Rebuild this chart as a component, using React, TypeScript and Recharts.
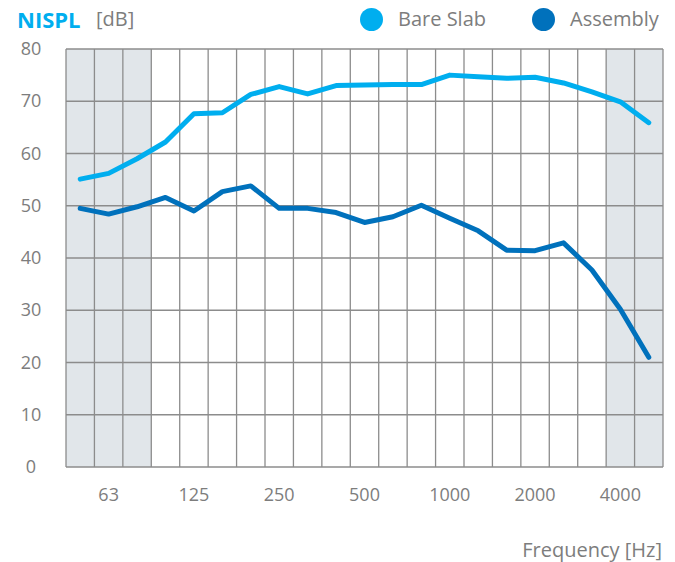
import { LineChart, Line, XAxis, YAxis, CartesianGrid } from 'recharts';

// one-third octave bands, 50 Hz .. 5000 Hz
const bands = [
  '50', '63', '80', '100', '125', '160', '200', '250', '315', '400', '500',
  '630', '800', '1000', '1250', '1600', '2000', '2500', '3150', '4000', '5000',
];
const bareSlab = [
  55.1, 56.2, 59.0, 62.2, 67.6, 67.8, 71.3, 72.8, 71.4, 73.0, 73.1,
  73.2, 73.2, 75.0, 74.7, 74.4, 74.6, 73.5, 71.8, 69.9, 65.9,
];
const assembly = [
  49.5, 48.4, 49.8, 51.6, 49.0, 52.7, 53.8, 49.5, 49.5, 48.7, 46.8,
  47.9, 50.1, 47.6, 45.2, 41.5, 41.4, 42.9, 37.7, 30.2, 21.0,
];
const labelledBands = ['63', '125', '250', '500', '1000', '2000', '4000'];
const yTicks = [0, 10, 20, 30, 40, 50, 60, 70, 80];
const shadedBands = ['50', '63', '80', '4000', '5000'];

const LIGHT = '#00aeef';
const DARK = '#0071bc';
const GREY_TEXT = '#7d7d7d';
const FONT = '"Open Sans", "DejaVu Sans", sans-serif';

const data = bands.map((b, i) => ({ idx: i, band: b, bare: bareSlab[i], assembly: assembly[i] }));

function YTick({ x = 0, y = 0, payload }: { x?: number; y?: number; payload?: { value: number } }) {
  return (
    <text x={x - 27} y={y} dy={6} textAnchor="middle" fill={GREY_TEXT} fontSize={18} fontFamily={FONT}>
      {payload?.value}
    </text>
  );
}

function XTick({ x = 0, y = 0, payload }: { x?: number; y?: number; payload?: { value: number } }) {
  return (
    <text x={x} y={y} dy={26} textAnchor="middle" fill={GREY_TEXT} fontSize={18} fontFamily={FONT}>
      {bands[payload?.value ?? 0]}
    </text>
  );
}

const label = { position: 'absolute' as const, fontSize: 20, lineHeight: '24px', color: GREY_TEXT };

export default function App() {
  const n = bands.length;
  // one stripe per band between the vertical grid lines
  const stripeFills = bands.map((b) => (shadedBands.includes(b) ? '#e1e6ea' : 'transparent'));

  return (
    <div style={{ position: 'absolute', left: 0, top: 0, width: 675, height: 562, background: '#fff', fontFamily: FONT }}>
      <LineChart width={675} height={562} data={data} margin={{ top: 49, right: 12, bottom: 55, left: 0 }}>
        <CartesianGrid
          stroke="#8c8c8c"
          strokeWidth={1.3}
          verticalFill={stripeFills}
          fillOpacity={1}
          verticalCoordinatesGenerator={({ offset }: any) =>
            Array.from({ length: n + 1 }, (_, k) => offset.left + (offset.width * k) / n)
          }
        />
        <XAxis
          dataKey="idx"
          type="number"
          domain={[-0.5, n - 0.5]}
          ticks={labelledBands.map((b) => bands.indexOf(b))}
          tick={<XTick />}
          axisLine={false}
          tickLine={false}
          height={40}
          interval={0}
        />
        <YAxis
          domain={[0, 80]}
          ticks={yTicks}
          tick={<YTick />}
          axisLine={false}
          tickLine={false}
          width={66}
          interval={0}
        />
        <Line dataKey="bare" stroke={LIGHT} strokeWidth={5} dot={false} strokeLinecap="round" strokeLinejoin="round" isAnimationActive={false} />
        <Line dataKey="assembly" stroke={DARK} strokeWidth={5} dot={false} strokeLinecap="round" strokeLinejoin="round" isAnimationActive={false} />
      </LineChart>

      <div style={{ position: 'absolute', left: 17, top: 6, fontSize: 22, lineHeight: '26px', fontWeight: 700, color: LIGHT }}>NISPL</div>
      <div style={{ ...label, left: 96, top: 7 }}>[dB]</div>

      <div style={{ position: 'absolute', left: 360, top: 8, width: 23, height: 23, borderRadius: '50%', background: LIGHT }} />
      <div style={{ ...label, left: 398, top: 7 }}>Bare Slab</div>
      <div style={{ position: 'absolute', left: 532, top: 8, width: 23, height: 23, borderRadius: '50%', background: DARK }} />
      <div style={{ ...label, left: 570, top: 7 }}>Assembly</div>

      <div style={{ ...label, right: 13, top: 538 }}>Frequency [Hz]</div>
    </div>
  );
}
